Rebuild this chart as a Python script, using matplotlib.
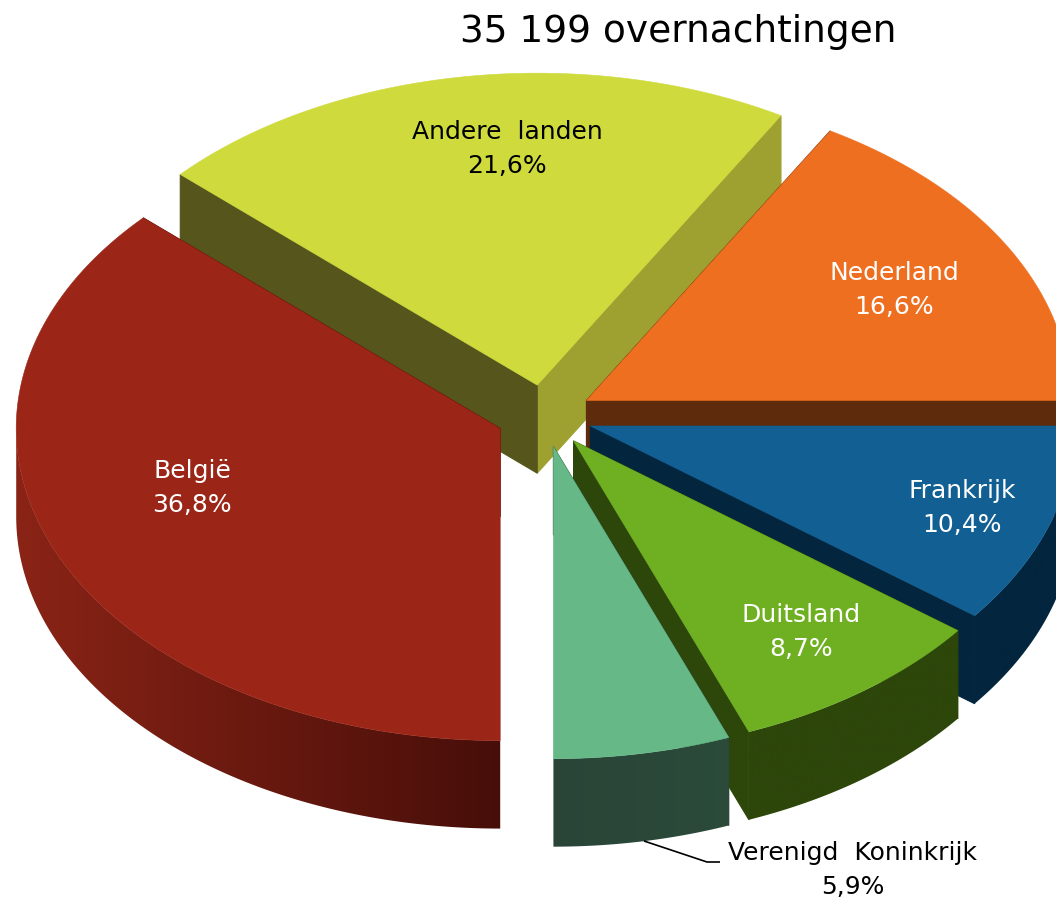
import numpy as np
import matplotlib
matplotlib.use("Agg")
import matplotlib.pyplot as plt
from matplotlib.colors import to_rgb
from matplotlib.patches import Polygon

# Data, in clockwise order starting from the east
categories = ["Frankrijk", "Duitsland", "Verenigd  Koninkrijk", "België", "Andere  landen", "Nederland"]
shares = [10.4, 8.7, 5.9, 36.8, 21.6, 16.6]
title = "35 199 overnachtingen"

top_colors = ["#126093", "#6fb023", "#66b987", "#9b2516", "#cfda3d", "#ee6f1f"]
cut_colors = {
    "Frankrijk": ("#03253e", "#03253e"),
    "Duitsland": ("#2d460a", "#2d460a"),
    "Verenigd  Koninkrijk": ("#27443a", "#27443a"),
    "België": ("#4a0f0a", "#4a0f0a"),
    "Andere  landen": ("#9ea030", "#55551c"),
    "Nederland": ("#5f2b0d", "#5f2b0d"),
}
wall_colors = {
    "Frankrijk": ("#03253e", "#03253e"),
    "Duitsland": ("#2d460a", "#2d460a"),
    "Verenigd  Koninkrijk": ("#294537", "#2f5540"),
    "België": ("#470e09", "#8a2416"),
    "Andere  landen": ("#55551c", "#55551c"),
    "Nederland": ("#5f2b0d", "#5f2b0d"),
}
label_colors = ["white", "white", "black", "white", "black", "white"]
label_centres = {
    "Frankrijk": (962, 508),
    "Duitsland": (801, 632),
    "Verenigd  Koninkrijk": (853, 870),
    "België": (192, 488),
    "Andere  landen": (507, 149),
    "Nederland": (894, 290),
}

CX, CY, RX, RY, DEPTH, EXPLODE = 544.5, 416, 484, 312, 88, 0.10
draw_order = ["Andere  landen", "Nederland", "Frankrijk", "Duitsland", "Verenigd  Koninkrijk", "België"]

fig = plt.figure(figsize=(10.56, 9.01), dpi=100)
ax = fig.add_axes([0, 0, 1, 1])

total = sum(shares)
edges = np.concatenate([[0], np.cumsum(shares)]) * 360 / total


def pt(apex, deg):
    r = np.radians(deg)
    return apex[0] + RX * np.cos(r), apex[1] + RY * np.sin(r)


def cut_face(p, q, color):
    if abs(q[0] - p[0]) < 1:  # seen edge-on
        return
    ax.add_patch(Polygon([p, q, (q[0], q[1] + DEPTH), (p[0], p[1] + DEPTH)], closed=True,
                         facecolor=color, edgecolor=color, linewidth=0.8))


def outer_wall(apex, a0, a1, colors):
    """Rounded wall of the visible front half, shaded by a gradient along x."""
    s, e = max(a0, 0), min(a1, 180)
    if e <= s:
        return
    ang = np.linspace(s, e, 200)
    upper = [pt(apex, d) for d in ang]
    lower = [(x, y + DEPTH) for x, y in upper[::-1]]
    clip = Polygon(upper + lower, closed=True, transform=ax.transData,
                   facecolor="none", edgecolor="none")
    ax.add_patch(clip)
    inner, outer = np.array(to_rgb(colors[0])), np.array(to_rgb(colors[1]))
    t = np.abs(np.linspace(-1, 1, 512))
    grad = inner + (outer - inner) * t[:, None]
    im = ax.imshow(grad[None, :, :], extent=(apex[0] - RX, apex[0] + RX, 901, 0),
                   aspect="auto", interpolation="bilinear", zorder=1)
    im.set_clip_path(clip)


geom = {}
for i, name in enumerate(categories):
    a0, a1 = edges[i], edges[i + 1]
    mid = np.radians((a0 + a1) / 2)
    apex = (CX + EXPLODE * RX * np.cos(mid), CY + EXPLODE * RY * np.sin(mid))
    geom[name] = (i, a0, a1, apex)

layer = 1.0
def stack(artists_before):
    """Give the artists added since the given count a rising z-order."""
    global layer
    for artist in ax.get_children():
        if artist not in artists_before and (artist in ax.patches or artist in ax.images):
            layer += 0.001
            artist.set_zorder(layer)

for name in draw_order:
    i, a0, a1, apex = geom[name]
    c_end, c_start = cut_colors[name]
    before = list(ax.get_children())
    cut_face(apex, pt(apex, a1), c_end)
    cut_face(apex, pt(apex, a0), c_start)
    stack(before)
    before = list(ax.get_children())
    outer_wall(apex, a0, a1, wall_colors[name])
    stack(before)
    before = list(ax.get_children())
    arc = [pt(apex, d) for d in np.linspace(a0, a1, 200)]
    ax.add_patch(Polygon([apex] + arc, closed=True, facecolor=top_colors[i],
                         edgecolor=top_colors[i], linewidth=0.4))
    stack(before)

for i, name in enumerate(categories):
    x, y = label_centres[name]
    txt = f"{name}\n{str(shares[i]).replace('.', ',')}%"
    ax.text(x, y, txt, ha="center", va="center", color=label_colors[i],
            fontsize=18, family="DejaVu Sans", linespacing=1.55, zorder=5)

# leader line of the small slice
ax.plot([644, 707, 720], [841, 862, 862], color="black", lw=1.2, solid_capstyle="butt", zorder=5)

ax.text(678, 32, title, ha="center", va="center", fontsize=27, color="black", family="DejaVu Sans", zorder=5)

ax.set_xlim(0, 1056)
ax.set_ylim(901, 0)
ax.axis("off")

fig.savefig("out.png", dpi=100, facecolor="white")
